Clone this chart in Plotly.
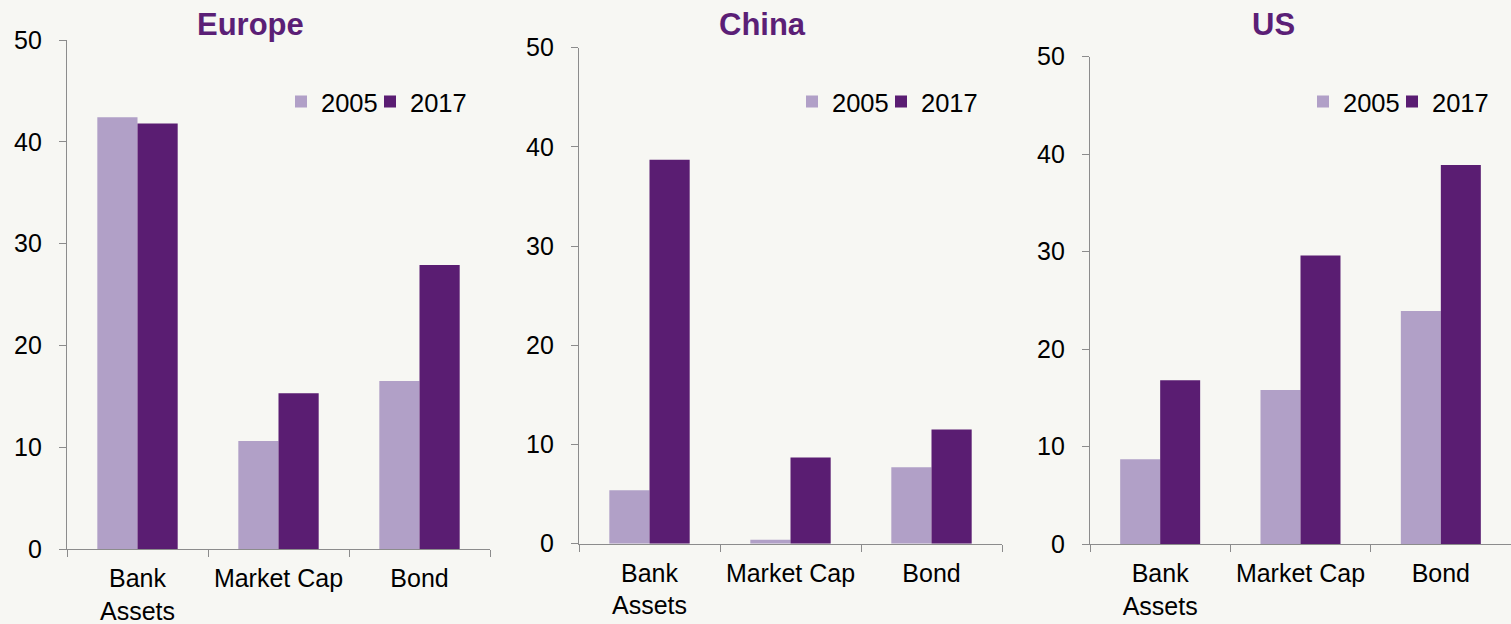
import plotly.graph_objects as go

# Funding mix by region, share of total (%)
categories = ["Bank<br>Assets", "Market Cap", "Bond"]
regions = ["Europe", "China", "US"]
years = ["2005", "2017"]

europe_2005 = [42.4, 10.6, 16.5]
europe_2017 = [41.8, 15.3, 27.9]
china_2005 = [5.4, 0.4, 7.7]
china_2017 = [38.7, 8.7, 11.5]
us_2005 = [8.7, 15.8, 23.9]
us_2017 = [16.8, 29.6, 38.9]

y_ticks = [0, 10, 20, 30, 40, 50]

values = {
    "Europe": [europe_2005, europe_2017],
    "China": [china_2005, china_2017],
    "US": [us_2005, us_2017],
}

BG = "#F7F7F3"
LIGHT = "#B1A0C7"
DARK = "#5A1D72"
TITLE = "#5B1F76"
AXIS = "#8C8C8C"
FONT = "Liberation Sans, Arial, sans-serif"

W, H = 1511, 624

# panel geometry in pixels: (left, right, top, bottom)
panels = {
    "Europe": (67, 490, 40, 549),
    "China": (579, 1002, 47.7, 543.7),
    "US": (1090, 1511, 56.7, 544),
}
title_x = {"Europe": 250, "China": 762, "US": 1273}
legend_left = {"Europe": 281, "China": 792, "US": 1303}
entry_widths = [44, 62]

fig = go.Figure()
layout = dict(
    width=W, height=H,
    margin=dict(l=0, r=0, t=0, b=0, autoexpand=False),
    paper_bgcolor=BG, plot_bgcolor=BG,
    font=dict(family=FONT, color="#000000"),
    barmode="group", bargap=0.43, bargroupgap=0,
    annotations=[],
)

for i, region in enumerate(regions):
    sfx = "" if i == 0 else str(i + 1)
    leg = "legend" + sfx
    left, right, top, bottom = panels[region]
    for j, (year, color) in enumerate(zip(years, [LIGHT, DARK])):
        fig.add_trace(go.Bar(
            x=categories, y=values[region][j], name=year,
            marker=dict(color=color, line=dict(width=0)),
            xaxis="x" + sfx, yaxis="y" + sfx, legend=leg,
            offsetgroup=year, legendwidth=entry_widths[j],
        ))
    layout["xaxis" + sfx] = dict(
        domain=[left / W, right / W], anchor="y" + sfx,
        type="category", showline=True, linecolor=AXIS, linewidth=1.3,
        ticks="outside", tickson="boundaries", ticklen=7, tickcolor=AXIS,
        tickwidth=1.3, showgrid=False, zeroline=False, tickangle=0,
        automargin=False,
        tickfont=dict(size=25, family=FONT, color="#000000"),
        ticklabelstandoff=7,
    )
    layout["yaxis" + sfx] = dict(
        domain=[1 - bottom / H, 1 - top / H], anchor="x" + sfx,
        range=[0, 50], tickvals=y_ticks, showline=True, linecolor=AXIS,
        linewidth=1.3, ticks="outside", ticklen=7, tickcolor=AXIS,
        tickwidth=1.3, showgrid=False, zeroline=False, automargin=False,
        tickfont=dict(size=25, family=FONT, color="#000000"),
        ticklabelstandoff=12,
    )
    layout[leg] = dict(
        x=legend_left[region] / W, xanchor="left",
        y=1 - 102 / H, yanchor="middle",
        orientation="h", bgcolor="rgba(0,0,0,0)",
        font=dict(size=25.5, family=FONT, color="#000000"),
        entrywidthmode="pixels",
        itemclick=False, itemdoubleclick=False,
    )
    layout["annotations"].append(dict(
        text="<b>%s</b>" % region, x=title_x[region] / W, y=1 - 25 / H,
        xref="paper", yref="paper", xanchor="center", yanchor="middle",
        showarrow=False, font=dict(size=31, family=FONT, color=TITLE),
    ))

fig.update_layout(**layout)
fig.write_html("out.html")
